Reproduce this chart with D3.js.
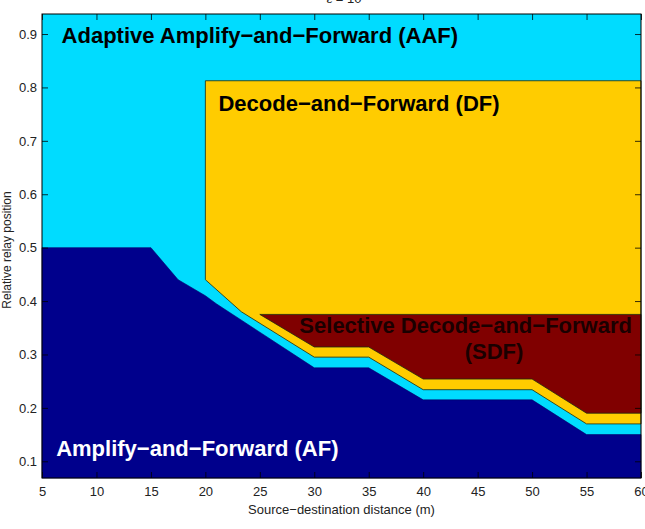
<!DOCTYPE html>
<html>
<head>
<meta charset="utf-8">
<script src="https://cdn.jsdelivr.net/npm/d3@7"></script>
<style>
  body { margin: 0; background: #fff; }
  text { font-family: "Liberation Sans", Arial, Helvetica, sans-serif; }
</style>
</head>
<body>
<svg id="chart" width="645" height="529"></svg>
<script>

    // axis ticks
    var xTicks = [5, 10, 15, 20, 25, 30, 35, 40, 45, 50, 55, 60];
    var yTicks = [0.1, 0.2, 0.3, 0.4, 0.5, 0.6, 0.7, 0.8, 0.9];

    // upper edge of the AF region (distance, relay position)
    var afTopX = [5, 15, 17.5, 20, 21, 30, 35, 40, 50, 55, 60];
    var afTopY = [0.5, 0.5, 0.44, 0.41, 0.395, 0.275, 0.275, 0.215, 0.215, 0.15, 0.15];

    // lower edge of the DF region
    var dfBottomX = [20, 23.3, 30, 35, 40, 50, 55, 60];
    var dfBottomY = [0.44, 0.38, 0.295, 0.295, 0.234, 0.234, 0.17, 0.17];
    var dfTop = 0.8125;

    // lower edge of the SDF region
    var sdfBottomX = [25, 30, 35, 40, 50, 55, 60];
    var sdfBottomY = [0.375, 0.314, 0.314, 0.254, 0.254, 0.19, 0.19];
    var sdfTop = 0.375;

    var colors = {
        aaf: '#00dcff',
        af: '#00008c',
        df: '#ffcc00',
        sdf: '#800000'
    };

    var margin = { top: 14, right: 4, bottom: 51, left: 42 };
    var width = 645 - margin.left - margin.right,
        height = 529 - margin.top - margin.bottom;

    var svg = d3.select('#chart');
    var g = svg.append('g')
        .attr('transform', 'translate(' + margin.left + ',' + margin.top + ')');

    var xScale = d3.scaleLinear().domain([5, 60]).range([0, width]);
    var yScale = d3.scaleLinear().domain([0.0687, 0.9375]).range([height, 0]);

    var xMin = 5, xMax = 60, yMin = yScale.domain()[0];

    var line = d3.line()
        .x(function (d) { return xScale(d[0]); })
        .y(function (d) { return yScale(d[1]); });

    var zip = function (xs, ys) {
        return xs.map(function (x, i) { return [x, ys[i]]; });
    };

    var afTop = zip(afTopX, afTopY),
        dfBottom = zip(dfBottomX, dfBottomY),
        sdfBottom = zip(sdfBottomX, sdfBottomY);

    // background = AAF
    g.append('rect')
        .attr('width', width)
        .attr('height', height)
        .attr('fill', colors.aaf);

    // DF
    var dfPoly = [[dfBottomX[0], dfTop], [xMax, dfTop]]
        .concat(dfBottom.slice().reverse());
    g.append('path')
        .attr('d', line(dfPoly) + 'Z')
        .attr('fill', colors.df)
        .attr('stroke', '#1c2a10')
        .attr('stroke-width', 0.8);

    // SDF
    var sdfPoly = [[sdfBottomX[0], sdfTop], [xMax, sdfTop]]
        .concat(sdfBottom.slice().reverse());
    g.append('path')
        .attr('d', line(sdfPoly) + 'Z')
        .attr('fill', colors.sdf)
        .attr('stroke', '#1c2a10')
        .attr('stroke-width', 0.8);

    // AF
    var afPoly = [[xMin, yMin]].concat(afTop).concat([[xMax, yMin]]);
    g.append('path')
        .attr('d', line(afPoly) + 'Z')
        .attr('fill', colors.af)
        .attr('stroke', '#00006a')
        .attr('stroke-width', 0.6);

    // region labels
    var labels = [
        { text: 'Adaptive Amplify\u2212and\u2212Forward (AAF)', x: 6.8, y: 0.884, anchor: 'start', color: '#000' },
        { text: 'Decode\u2212and\u2212Forward (DF)', x: 21.2, y: 0.756, anchor: 'start', color: '#000' },
        { text: 'Selective Decode\u2212and\u2212Forward', x: 43.9, y: 0.34, anchor: 'middle', color: '#1a0000' },
        { text: '(SDF)', x: 46.5, y: 0.291, anchor: 'middle', color: '#1a0000' },
        { text: 'Amplify\u2212and\u2212Forward (AF)', x: 6.3, y: 0.1107, anchor: 'start', color: '#fff' }
    ];
    g.selectAll('text.region')
        .data(labels)
        .enter().append('text')
        .classed('region', true)
        .attr('x', function (d) { return xScale(d.x); })
        .attr('y', function (d) { return yScale(d.y); })
        .attr('text-anchor', function (d) { return d.anchor; })
        .attr('fill', function (d) { return d.color; })
        .attr('font-size', '22px')
        .attr('font-weight', 'bold')
        .text(function (d) { return d.text; });

    // axes, MATLAB style ticks pointing inwards
    var tickLen = 6;

    var xAxis = g.append('g')
        .attr('transform', 'translate(0,' + height + ')')
        .call(d3.axisBottom(xScale).tickValues(xTicks).tickSize(-tickLen).tickPadding(9)
            .tickFormat(d3.format('d')));
    var xTop = g.append('g')
        .call(d3.axisTop(xScale).tickValues(xTicks).tickSize(-tickLen).tickFormat(''));
    var yAxis = g.append('g')
        .call(d3.axisLeft(yScale).tickValues(yTicks).tickSize(-tickLen).tickPadding(5)
            .tickFormat(d3.format('.1f')));
    var yRight = g.append('g')
        .attr('transform', 'translate(' + width + ',0)')
        .call(d3.axisRight(yScale).tickValues(yTicks).tickSize(-tickLen).tickFormat(''));

    [xAxis, xTop, yAxis, yRight].forEach(function (a) {
        a.select('.domain').remove();
        a.selectAll('.tick line').attr('stroke', '#000').attr('stroke-width', 0.8);
        a.selectAll('.tick text')
            .attr('font-size', '13px')
            .attr('font-family', '"Liberation Sans", Arial, sans-serif')
            .attr('fill', '#222');
    });

    // frame
    g.append('rect')
        .attr('width', width)
        .attr('height', height)
        .attr('fill', 'none')
        .attr('stroke', '#000')
        .attr('stroke-width', 1);

    // axis titles
    svg.append('text')
        .attr('x', margin.left + width / 2)
        .attr('y', 514)
        .attr('text-anchor', 'middle')
        .attr('font-size', '13px')
        .attr('fill', '#222')
        .text('Source\u2212destination distance (m)');

    svg.append('text')
        .attr('transform', 'translate(11,250) rotate(-90)')
        .attr('text-anchor', 'middle')
        .attr('font-size', '12px')
        .attr('fill', '#222')
        .text('Relative relay position');

    svg.append('text')
        .attr('x', 344)
        .attr('y', 3)
        .attr('text-anchor', 'middle')
        .attr('font-size', '13px')
        .attr('fill', '#222')
        .text('\u03b5 = 10');

</script>
</body>
</html>
